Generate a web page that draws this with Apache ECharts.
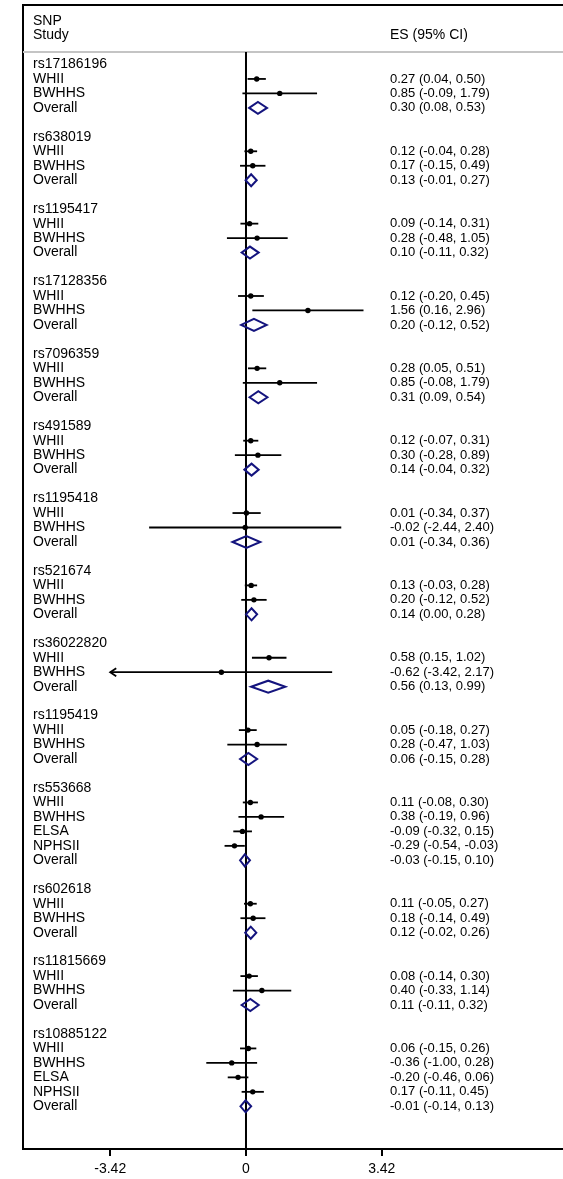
<!DOCTYPE html>
<html><head><meta charset="utf-8">
<script src="https://cdn.jsdelivr.net/npm/echarts@6/dist/echarts.min.js"></script>
<style>html,body{margin:0;padding:0;background:#fff;overflow:hidden}#c{width:580px;height:1179px}</style>
</head><body><div id="c"></div>
<script>
// ---- data ----
const snps = ['rs17186196','rs638019','rs1195417','rs17128356','rs7096359','rs491589','rs1195418',
  'rs521674','rs36022820','rs1195419','rs553668','rs602618','rs11815669','rs10885122'];
const studyNames = [
  ['WHII','BWHHS'],['WHII','BWHHS'],['WHII','BWHHS'],['WHII','BWHHS'],['WHII','BWHHS'],
  ['WHII','BWHHS'],['WHII','BWHHS'],['WHII','BWHHS'],['WHII','BWHHS'],['WHII','BWHHS'],
  ['WHII','BWHHS','ELSA','NPHSII'],['WHII','BWHHS'],['WHII','BWHHS'],['WHII','BWHHS','ELSA','NPHSII']
];
// last value of each group = Overall
const es = [
  [0.27,0.85,0.30],[0.12,0.17,0.13],[0.09,0.28,0.10],[0.12,1.56,0.20],[0.28,0.85,0.31],
  [0.12,0.30,0.14],[0.01,-0.02,0.01],[0.13,0.20,0.14],[0.58,-0.62,0.56],[0.05,0.28,0.06],
  [0.11,0.38,-0.09,-0.29,-0.03],[0.11,0.18,0.12],[0.08,0.40,0.11],[0.06,-0.36,-0.20,0.17,-0.01]
];
const lower = [
  [0.04,-0.09,0.08],[-0.04,-0.15,-0.01],[-0.14,-0.48,-0.11],[-0.20,0.16,-0.12],[0.05,-0.08,0.09],
  [-0.07,-0.28,-0.04],[-0.34,-2.44,-0.34],[-0.03,-0.12,0.00],[0.15,-3.42,0.13],[-0.18,-0.47,-0.15],
  [-0.08,-0.19,-0.32,-0.54,-0.15],[-0.05,-0.14,-0.02],[-0.14,-0.33,-0.11],[-0.15,-1.00,-0.46,-0.11,-0.14]
];
const upper = [
  [0.50,1.79,0.53],[0.28,0.49,0.27],[0.31,1.05,0.32],[0.45,2.96,0.52],[0.51,1.79,0.54],
  [0.31,0.89,0.32],[0.37,2.40,0.36],[0.28,0.52,0.28],[1.02,2.17,0.99],[0.27,1.03,0.28],
  [0.30,0.96,0.15,-0.03,0.10],[0.27,0.49,0.26],[0.30,1.14,0.32],[0.26,0.28,0.06,0.45,0.13]
];
const xTicks = [-3.42, 0, 3.42];
const headerLeft = ['SNP', 'Study'];
const headerRight = 'ES (95% CI)';
const overallLabel = 'Overall';

// ---- rows ----
const rows = [];
let r = 0;
snps.forEach((s, g) => {
  rows.push({row: r++, kind: 'title', label: s});
  studyNames[g].forEach((n, i) => rows.push({row: r++, kind: 'study', label: n, es: es[g][i], lo: lower[g][i], hi: upper[g][i]}));
  const k = studyNames[g].length;
  rows.push({row: r++, kind: 'overall', label: overallLabel, es: es[g][k], lo: lower[g][k], hi: upper[g][k]});
  r++;
});
const f2 = v => v.toFixed(2);
const FONT = '"Liberation Sans", Arial, sans-serif';
const LFONT = '14px ' + FONT;
const RFONT = '13px ' + FONT;
const SEP_ROW = -0.86;
const Y_MIN = -4.11, Y_MAX = 74.95;

function renderRow(params, api) {
  const d = rows[params.dataIndex];
  const cs = params.coordSys;
  const y = api.coord([0, d.row])[1];
  const ch = [];
  ch.push({type: 'text', style: {x: cs.x + 10, y: y, text: d.label, font: LFONT, fill: '#000', align: 'left', verticalAlign: 'middle'}});
  if (d.kind === 'study' || d.kind === 'overall') {
    ch.push({type: 'text', style: {x: cs.x + 367, y: y, text: f2(d.es) + ' (' + f2(d.lo) + ', ' + f2(d.hi) + ')', font: RFONT, fill: '#000', align: 'left', verticalAlign: 'middle'}});
  }
  if (d.kind === 'study') {
    const lo = Math.max(d.lo, xTicks[0]), hi = Math.min(d.hi, xTicks[xTicks.length - 1]);
    const x0 = api.coord([lo, d.row])[0], x1 = api.coord([hi, d.row])[0], xe = api.coord([d.es, d.row])[0];
    ch.push({type: 'line', shape: {x1: x0, y1: y, x2: x1, y2: y}, style: {stroke: '#000', lineWidth: 1.8}});
    if (d.lo <= xTicks[0]) ch.push({type: 'polyline', shape: {points: [[x0 + 6, y - 4], [x0, y], [x0 + 6, y + 4]]}, style: {stroke: '#000', lineWidth: 1.8, fill: null}});
    if (d.hi >= xTicks[xTicks.length - 1]) ch.push({type: 'polyline', shape: {points: [[x1 - 6, y - 4], [x1, y], [x1 - 6, y + 4]]}, style: {stroke: '#000', lineWidth: 1.8, fill: null}});
    ch.push({type: 'circle', shape: {cx: xe, cy: y, r: 2.7}, style: {fill: '#000'}});
  } else if (d.kind === 'overall') {
    const x0 = api.coord([d.lo, d.row])[0], x1 = api.coord([d.hi, d.row])[0], xe = api.coord([d.es, d.row])[0];
    ch.push({type: 'polygon', shape: {points: [[x0, y], [xe, y - 6], [x1, y], [xe, y + 6]]}, style: {stroke: '#14147e', lineWidth: 2, fill: 'none'}});
  }
  return {type: 'group', children: ch};
}

function renderFrame(params, api) {
  const cs = params.coordSys;
  const ySep = api.coord([0, SEP_ROW])[1];
  const x0 = api.coord([0, SEP_ROW])[0];
  const ch = [
    {type: 'line', shape: {x1: cs.x, y1: ySep, x2: cs.x + cs.width, y2: ySep}, style: {stroke: '#c4c4c4', lineWidth: 2}},
    {type: 'line', shape: {x1: x0, y1: ySep, x2: x0, y2: cs.y + cs.height}, style: {stroke: '#000', lineWidth: 2}}
  ];
  headerLeft.forEach((t, i) => ch.push({type: 'text', style: {x: cs.x + 10, y: api.coord([0, -3 + i])[1], text: t, font: LFONT, fill: '#000', align: 'left', verticalAlign: 'middle'}}));
  ch.push({type: 'text', style: {x: cs.x + 367, y: api.coord([0, -2])[1], text: headerRight, font: LFONT, fill: '#000', align: 'left', verticalAlign: 'middle'}});
  return {type: 'group', children: ch};
}

const chart = echarts.init(document.getElementById('c'), null, {renderer: 'canvas'});
chart.setOption({
  animation: false,
  backgroundColor: '#fff',
  grid: {left: 23, right: 12, top: 5, bottom: 30, show: true, borderColor: '#000', borderWidth: 2, backgroundColor: 'transparent'},
  xAxis: {
    type: 'value', min: -5.617, max: 8.111,
    splitLine: {show: false},
    axisLine: {show: true, onZero: false, lineStyle: {color: '#000', width: 2}},
    axisTick: {show: true, customValues: xTicks, length: 7, lineStyle: {color: '#000', width: 2}},
    axisLabel: {customValues: xTicks, formatter: v => String(v), color: '#000', fontSize: 14, fontFamily: FONT, margin: 13}
  },
  yAxis: {type: 'value', min: Y_MIN, max: Y_MAX, inverse: true, show: false, splitLine: {show: false}},
  series: [
    {type: 'custom', renderItem: renderFrame, data: [[0, 0]], silent: true, z: 1},
    {type: 'custom', renderItem: renderRow, data: rows.map(d => [d.es || 0, d.row]), silent: true, z: 2}
  ]
});
</script></body></html>
